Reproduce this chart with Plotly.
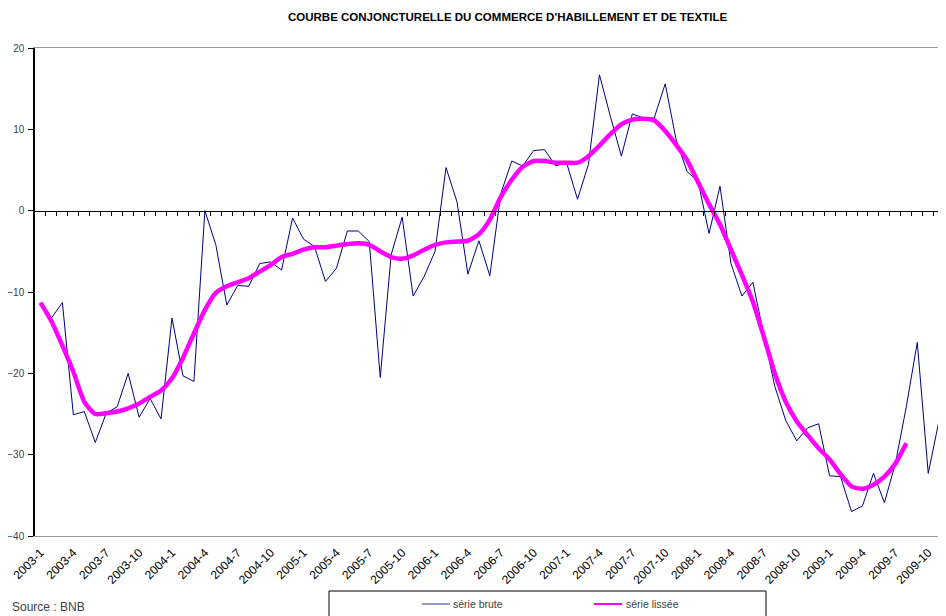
import plotly.graph_objects as go

years = [2003, 2004, 2005, 2006, 2007, 2008, 2009]
categories = [f"{y}-{m}" for y in years for m in range(1, 13)]

serie_brute = [
    -11.4, -13.2, -11.3, -25.1, -24.7, -28.5, -24.9, -24.1, -20.0, -25.4, -23.1, -25.6,
    -13.2, -20.3, -21.0, 0.0, -4.2, -11.6, -9.2, -9.3, -6.5, -6.3, -7.3, -0.9,
    -3.5, -4.4, -8.7, -7.1, -2.5, -2.5, -3.8, -20.5, -5.4, -0.8, -10.5, -8.1,
    -5.0, 5.3, 1.1, -7.8, -3.7, -8.0, 2.1, 6.1, 5.5, 7.4, 7.5, 5.5,
    5.9, 1.4, 5.7, 16.7, 11.6, 6.7, 11.9, 11.4, 11.4, 15.6, 8.7, 4.8,
    3.6, -2.8, 3.0, -6.5, -10.5, -8.8, -15.3, -21.6, -25.8, -28.3, -26.7, -26.2,
    -32.6, -32.7, -37.0, -36.3, -32.3, -35.9, -31.1, -24.1, -16.2, -32.3, -25.7, -23.3,
]

serie_lissee = [
    -11.3, -13.6, -16.6, -19.8, -23.5, -25.0, -24.9, -24.7, -24.3, -23.7, -22.9, -22.1,
    -20.6, -18.1, -15.1, -12.2, -10.1, -9.3, -8.8, -8.3, -7.5, -6.7, -5.7, -5.3,
    -4.8, -4.5, -4.5, -4.3, -4.1, -4.0, -4.2, -5.0, -5.7, -5.9, -5.5, -4.8,
    -4.2, -3.9, -3.8, -3.7, -2.9, -1.1, 1.7, 3.8, 5.4, 6.1, 6.1, 5.9,
    5.9, 5.9, 6.7, 8.0, 9.4, 10.6, 11.2, 11.3, 11.1, 9.8, 8.1, 6.2,
    3.5, 0.8, -1.7, -4.8, -7.9, -11.2, -15.5, -20.0, -23.5, -25.9, -27.6, -29.2,
    -30.6, -32.4, -33.9, -34.2, -33.7, -32.7, -31.1, -28.6, None, None, None, None,
]

tick_labels = [
    "2003-1", "2003-4", "2003-7", "2003-10", "2004-1", "2004-4", "2004-7", "2004-10",
    "2005-1", "2005-4", "2005-7", "2005-10", "2006-1", "2006-4", "2006-7", "2006-10",
    "2007-1", "2007-4", "2007-7", "2007-10", "2008-1", "2008-4", "2008-7", "2008-10",
    "2009-1", "2009-4", "2009-7", "2009-10",
]

title_text = "COURBE CONJONCTURELLE DU COMMERCE D'HABILLEMENT ET DE TEXTILE"
source_text = "Source : BNB"
legend_names = ["série brute", "série lissée"]

x_idx = list(range(len(categories)))
tick_pos = [categories.index(t) for t in tick_labels]
boundaries = [k + 0.5 for k in range(len(categories))]

# page body has an 8px margin; figure occupies screen (8,8)-(946,616)
OFF = 8
W, H = 938, 608
L, T, B, R = 27, 40, 80, 0
pw, ph = W - L - R, H - T - B
cat_px = 10.96
x_range = [-0.5, -0.5 + pw / cat_px]

def px(xs):
    return (xs - OFF - L) / pw

def py(ys):
    return (H - B - (ys - OFF)) / ph

FONT = "Liberation Sans, Arial, sans-serif"

fig = go.Figure()
fig.add_trace(go.Scatter(
    x=x_idx, y=serie_brute, mode="lines", name=legend_names[0],
    line=dict(color="#000080", width=1), showlegend=False, hoverinfo="skip",
))
fig.add_trace(go.Scatter(
    x=x_idx, y=serie_lissee, mode="lines", name=legend_names[1],
    line=dict(color="#FF00FF", width=4.5, shape="spline", smoothing=0.6),
    showlegend=False, connectgaps=False, hoverinfo="skip",
))
fig.add_trace(go.Scatter(x=[0], y=[0], xaxis="x2", yaxis="y", mode="markers",
                         marker=dict(opacity=0), showlegend=False, hoverinfo="skip"))

fig.update_layout(
    width=W, height=H,
    margin=dict(l=L, r=R, t=T, b=B, pad=0, autoexpand=False),
    plot_bgcolor="white", paper_bgcolor="white",
    xaxis=dict(
        range=x_range, showgrid=False, zeroline=False, automargin=False,
        showline=True, linecolor="#999999", linewidth=1, mirror=True,
        tickmode="array", tickvals=tick_pos, ticktext=tick_labels,
        tickangle=-45, ticks="", tickfont=dict(family=FONT, size=12, color="#000000"),
        ticklabelstandoff=4,
    ),
    xaxis2=dict(
        overlaying="x", anchor="free", position=40 / 60, matches="x", automargin=False,
        showgrid=False, zeroline=False, showline=True, linecolor="#000000", linewidth=1,
        tickmode="array", tickvals=boundaries, ticks="outside", ticklen=4,
        tickcolor="#000000", showticklabels=False,
    ),
    yaxis=dict(
        range=[-40, 20], dtick=10, showgrid=False, zeroline=False, automargin=False,
        showline=True, linecolor="#000000", linewidth=1.5,
        ticks="outside", ticklen=5, tickcolor="#000000",
        tickfont=dict(family=FONT, size=10, color="#404040"),
        ticklabelstandoff=2,
    ),
    font=dict(family=FONT),
)

annotations = [
    dict(text="<b>" + title_text + "</b>", xref="paper", yref="paper",
         x=px(507), y=py(17), xanchor="center", yanchor="middle", showarrow=False,
         font=dict(family=FONT, size=11.5, color="#000000")),
    dict(text=source_text, xref="paper", yref="paper",
         x=px(10), y=py(607), xanchor="left", yanchor="middle", showarrow=False,
         font=dict(family=FONT, size=12, color="#404040")),
    dict(text=legend_names[0], xref="paper", yref="paper",
         x=px(451), y=py(604), xanchor="left", yanchor="middle", showarrow=False,
         font=dict(family=FONT, size=10.5, color="#404040")),
    dict(text=legend_names[1], xref="paper", yref="paper",
         x=px(624), y=py(604), xanchor="left", yanchor="middle", showarrow=False,
         font=dict(family=FONT, size=10.5, color="#404040")),
]

shapes = [
    dict(type="rect", xref="paper", yref="paper",
         x0=px(329), x1=px(766), y0=py(640), y1=py(591),
         line=dict(color="#000000", width=1), fillcolor="rgba(0,0,0,0)"),
    dict(type="line", xref="paper", yref="paper",
         x0=px(422), x1=px(450), y0=py(604), y1=py(604),
         line=dict(color="#3333AA", width=1)),
    dict(type="line", xref="paper", yref="paper",
         x0=px(594), x1=px(622), y0=py(604), y1=py(604),
         line=dict(color="#FF00FF", width=2)),
]

fig.update_layout(annotations=annotations, shapes=shapes)
fig.write_html("out.html")
